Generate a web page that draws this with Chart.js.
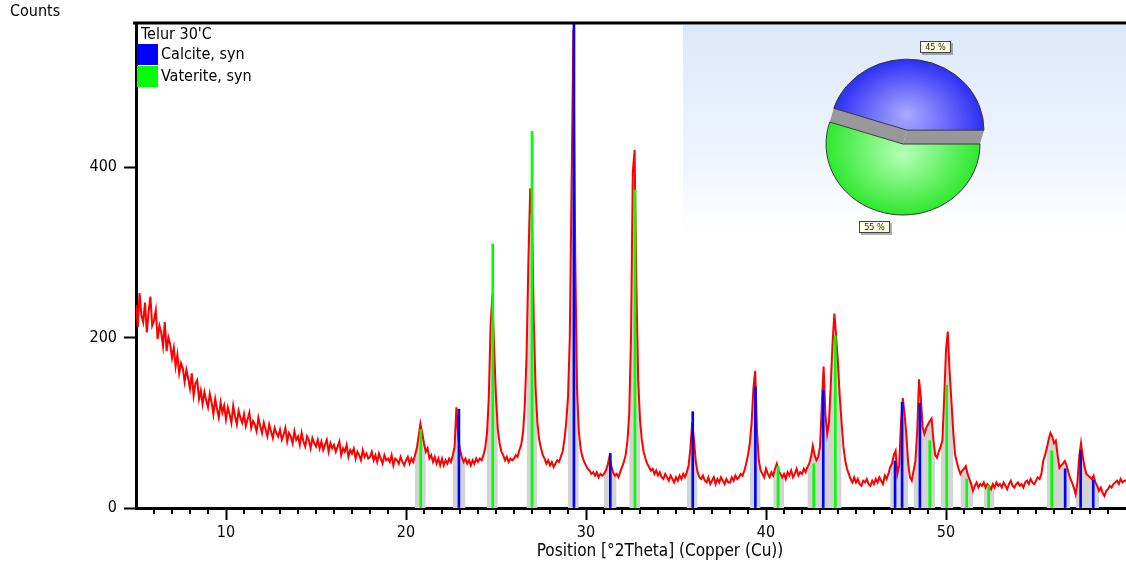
<!DOCTYPE html>
<html>
<head>
<meta charset="utf-8">
<title>Telur 30'C</title>
<script src="https://cdn.jsdelivr.net/npm/chart.js@4.4.1/dist/chart.umd.min.js"></script>
<style>
  html, body { margin: 0; padding: 0; background: #fff; }
  #wrap { position: relative; width: 1126px; height: 577px; overflow: hidden; }
  #pattern { position: absolute; left: 0; top: 0; }
  #quantInset {
    position: absolute; left: 683px; top: 25px; width: 443px; height: 212px;
    background: linear-gradient(to bottom, #dce8fa 0%, #ecf3fd 55%, #ffffff 100%);
  }
  #quant { position: absolute; left: 0; top: 0; }
</style>
</head>
<body>
<div id="wrap">
  <canvas id="pattern" width="1126" height="577"></canvas>
  <div id="quantInset"><canvas id="quant" width="443" height="212"></canvas></div>
</div>
<script>
// Scan: 5 - 60 °2Theta, 0.1° step
const SCAN_START = 5;
const SCAN_STEP = 0.1;
const counts = [
  238, 212, 252, 226, 218, 241, 206, 230, 248, 214,   // 5
  220, 232, 198, 214, 206, 190, 218, 184, 200, 192,   // 6
  176, 188, 166, 180, 158, 170, 164, 148, 162, 152,   // 7
  140, 158, 132, 146, 150, 128, 138, 122, 136, 126,   // 8
  118, 134, 124, 110, 128, 116, 106, 124, 112, 120,   // 9
  104, 118, 110, 100, 120, 108, 98, 114, 106, 100,    // 10
  110, 96, 104, 112, 94, 102, 98, 90, 106, 96,        // 11
  88, 100, 92, 84, 98, 90, 82, 94, 88, 84,            // 12
  92, 80, 86, 94, 78, 88, 84, 76, 90, 80,             // 13
  84, 74, 88, 78, 72, 84, 80, 70, 82, 76,             // 14
  72, 80, 70, 78, 68, 74, 80, 66, 76, 70,             // 15
  74, 66, 72, 78, 62, 70, 66, 74, 60, 68,             // 16
  64, 70, 58, 66, 62, 56, 68, 60, 64, 58,             // 17
  60, 66, 56, 62, 54, 64, 58, 52, 62, 56,             // 18
  58, 54, 62, 50, 58, 56, 52, 60, 54, 50,             // 19
  56, 60, 52, 58, 54, 62, 70, 84, 99, 88,             // 20
  76, 66, 70, 58, 62, 54, 60, 52, 58, 50,             // 21
  58, 50, 56, 52, 58, 54, 62, 72, 118, 84,            // 22
  68, 60, 54, 58, 52, 56, 50, 56, 52, 58,             // 23
  54, 58, 56, 62, 70, 88, 130, 215, 250, 185,         // 24
  130, 92, 76, 66, 62, 56, 60, 54, 58, 56,            // 25
  58, 62, 60, 68, 74, 88, 120, 180, 290, 375,         // 26
  340, 220, 140, 100, 80, 70, 62, 58, 52, 56,         // 27
  50, 54, 48, 52, 56, 54, 60, 66, 80, 100,            // 28
  130, 200, 380, 561, 300, 140, 90, 70, 60, 54,       // 29
  50, 46, 44, 40, 42, 38, 42, 36, 40, 38,             // 30
  40, 44, 50, 60, 50, 42, 38, 40, 36, 42,             // 31
  48, 54, 62, 78, 110, 200, 394, 420, 260, 150,       // 32
  104, 80, 66, 58, 52, 48, 44, 46, 40, 44,            // 33
  38, 42, 36, 34, 40, 36, 32, 38, 34, 30,             // 34
  36, 32, 38, 34, 40, 36, 42, 50, 70, 100,            // 35
  80, 54, 42, 36, 34, 38, 32, 30, 36, 28,             // 36
  32, 36, 28, 34, 30, 36, 32, 28, 34, 30,             // 37
  30, 36, 32, 38, 34, 36, 40, 38, 44, 52,             // 38
  62, 76, 100, 140, 161, 90, 56, 44, 40, 36,          // 39
  46, 40, 36, 42, 38, 46, 52, 44, 40, 36,             // 40
  40, 34, 42, 38, 44, 36, 40, 46, 38, 42,             // 41
  40, 46, 42, 48, 52, 60, 73, 62, 56, 60,             // 42
  72, 120, 166, 110, 87, 100, 146, 195, 228, 200,     // 43
  170, 130, 100, 72, 56, 46, 40, 34, 30, 36,          // 44
  30, 34, 28, 26, 32, 30, 34, 28, 26, 32,             // 45
  28, 34, 30, 36, 32, 28, 38, 34, 40, 48,             // 46
  52, 62, 67, 40, 50, 100, 129, 110, 85, 52,          // 47
  36, 32, 44, 55, 90, 151, 130, 95, 87, 94,           // 48
  98, 102, 105, 80, 62, 59, 66, 72, 79, 130,          // 49
  185, 207, 160, 126, 90, 63, 54, 46, 40, 44,         // 50
  46, 49, 40, 34, 28, 20, 26, 30, 24, 28,             // 51
  26, 30, 24, 28, 26, 22, 28, 24, 30, 26,             // 52
  28, 24, 30, 26, 22, 28, 32, 26, 24, 28,             // 53
  30, 26, 28, 24, 30, 32, 28, 34, 30, 28,             // 54
  32, 36, 34, 40, 55, 62, 70, 80, 88, 84,             // 55
  76, 79, 62, 47, 50, 52, 55, 50, 42, 35,             // 56
  30, 24, 16, 30, 60, 76, 60, 48, 40, 38,             // 57
  36, 34, 38, 30, 26, 20, 24, 18, 14, 20,             // 58
  22, 26, 24, 28, 30, 32, 28, 34, 30, 32,             // 59
  32                                                  // 60
];

// Reference patterns (stick positions and heights)
const calcitePos = [22.94, 29.33, 31.35, 35.93, 39.41, 43.18, 47.17, 47.56, 48.55, 56.62, 57.48, 58.18];
const calciteInt = [116, 575, 64, 113, 142, 138, 55, 124, 123, 46, 67, 33];
const vateritePos = [20.82, 24.82, 27.0, 32.72, 40.67, 42.65, 43.85, 49.1, 50.04, 51.15, 52.37, 55.87];
const vateriteInt = [92, 310, 442, 373, 49, 52, 202, 79, 144, 34, 27, 67];

const xTickValues = [10, 20, 30, 40, 50];
const yTickValues = [0, 200, 400];

// Semi-quantitative result
const phaseNames = ['Calcite, syn', 'Vaterite, syn'];
const phasePercent = [45, 55];
const phaseColors = ['#0000ff', '#00ff00'];

const sampleName = "Telur 30'C";
const xTitle = 'Position [°2Theta] (Copper (Cu))';
const yTitle = 'Counts';

const FONT_FAMILY = "'DejaVu Sans Condensed', 'DejaVu Sans', sans-serif";
Chart.defaults.font.family = FONT_FAMILY;
Chart.defaults.font.size = 16;
Chart.defaults.color = '#000';

const scan = counts.map((c, i) => ({ x: Math.round((SCAN_START + i * SCAN_STEP) * 100) / 100, y: c }));
const allSticks = calcitePos.concat(vateritePos);
const MATCH_HALF_WIDTH = 0.36;
// profile shaded under each reference line
const matched = scan.map(p => ({
  x: p.x,
  y: allSticks.some(s => Math.abs(s - p.x) <= MATCH_HALF_WIDTH) ? p.y : null
}));
const toSticks = (pos, h) => pos.map((x, i) => ({ x: x, y: h[i] }));

const framePlugin = {
  id: 'frame',
  afterDatasetsDraw(chart) {
    const { ctx, chartArea: a } = chart;
    ctx.save();
    ctx.strokeStyle = '#000';
    ctx.lineWidth = 3;
    ctx.beginPath();
    ctx.moveTo(a.left - 3, a.top);
    ctx.lineTo(a.right, a.top);
    ctx.stroke();
    ctx.restore();
  },
  afterDraw(chart) {
    const { ctx, chartArea: a } = chart;
    const xs = chart.scales.x;
    ctx.save();

    // minor ticks every degree
    ctx.strokeStyle = '#000';
    ctx.lineWidth = 2;
    ctx.beginPath();
    for (let v = Math.ceil(xs.min) + 1; v < xs.max; v++) {
      if (v % 10 === 0) continue;
      const px = Math.round(xs.getPixelForValue(v));
      ctx.moveTo(px, a.bottom + 1);
      ctx.lineTo(px, a.bottom + 6);
    }
    ctx.stroke();

    ctx.fillStyle = '#000';
    ctx.textBaseline = 'middle';

    // axis titles
    ctx.font = '17px ' + FONT_FAMILY;
    ctx.textAlign = 'center';
    ctx.fillText(xTitle, 660, 552);
    ctx.font = '16px ' + FONT_FAMILY;
    ctx.textAlign = 'left';
    ctx.fillText(yTitle, 10, 12);

    // legend inside the plot
    ctx.fillText(sampleName, a.left + 5, a.top + 12);
    phaseNames.forEach((name, i) => {
      const top = a.top + 21 + i * 22;
      ctx.fillStyle = phaseColors[i];
      ctx.fillRect(a.left + 1, top, 21, 21);
      ctx.fillStyle = '#000';
      ctx.fillText(name, a.left + 25, top + 11);
    });
    ctx.restore();
  }
};

new Chart(document.getElementById('pattern'), {
  type: 'line',
  data: {
    datasets: [
      {
        type: 'bar', label: phaseNames[0], data: toSticks(calcitePos, calciteInt),
        backgroundColor: phaseColors[0], barThickness: 2, grouped: false, order: 1
      },
      {
        type: 'bar', label: phaseNames[1], data: toSticks(vateritePos, vateriteInt),
        backgroundColor: phaseColors[1], barThickness: 2, grouped: false, order: 1
      },
      {
        label: sampleName, data: scan, borderColor: '#ff0000', borderWidth: 2,
        pointRadius: 0, tension: 0, fill: false, order: 2
      },
      {
        label: 'matched', data: matched, borderWidth: 0, borderColor: 'rgba(0,0,0,0)',
        pointRadius: 0, tension: 0, fill: 'origin', backgroundColor: '#d3d3d3',
        spanGaps: false, order: 3
      }
    ]
  },
  options: {
    responsive: false,
    animation: false,
    events: [],
    layout: { padding: { top: 23, right: 0, bottom: 0, left: 0 } },
    plugins: { legend: { display: false }, tooltip: { enabled: false } },
    scales: {
      x: {
        type: 'linear', min: 5, max: 60, offset: false,
        border: { color: '#000', width: 3 },
        grid: { offset: false, drawOnChartArea: false, tickLength: 12, tickWidth: 2, tickColor: '#000' },
        ticks: { autoSkip: false, maxRotation: 0, padding: 3 },
        afterBuildTicks(scale) { scale.ticks = xTickValues.map(v => ({ value: v })); },
        afterFit(scale) { scale.height = 69; }
      },
      y: {
        min: 0, max: 569,
        border: { color: '#000', width: 3 },
        grid: { offset: false, drawOnChartArea: false, tickLength: 12, tickWidth: 2, tickColor: '#000' },
        ticks: { padding: 7 },
        afterBuildTicks(scale) { scale.ticks = yTickValues.map(v => ({ value: v })); },
        afterFit(scale) { scale.width = 136; }
      }
    }
  },
  plugins: [framePlugin]
});

// Phase pie: slightly tilted, calcite slice lifted off the rest
const PIE_RADIUS = 77;
const PIE_TILT = 0.922;
const LIFT = { x: 4, y: -15 };

function sliceFill(context) {
  const { chart, dataIndex } = context;
  const a = chart.chartArea;
  if (!a || dataIndex === undefined) return phaseColors[0];
  let cx = (a.left + a.right) / 2;
  let cy = (a.top + a.bottom) / 2;
  if (dataIndex === 0) { cx += LIFT.x; cy += LIFT.y; }
  const focusY = dataIndex === 0 ? cy - 18 : cy + 12;
  const g = chart.ctx.createRadialGradient(cx, focusY, 0, cx, cy, PIE_RADIUS);
  if (dataIndex === 0) {
    g.addColorStop(0, '#a9a9ff');
    g.addColorStop(1, '#2e2ef5');
  } else {
    g.addColorStop(0, '#b6ffb6');
    g.addColorStop(1, '#2fe82f');
  }
  return g;
}

const tiltPlugin = {
  id: 'tilt',
  afterDatasetsUpdate(chart) {
    const arc = chart.getDatasetMeta(0).data[0];
    arc.x += LIFT.x;
    arc.y += LIFT.y;
  },
  beforeDatasetsDraw(chart) {
    const ctx = chart.ctx;
    const [lifted, rest] = chart.getDatasetMeta(0).data;
    ctx.save();
    ctx.translate(rest.x, rest.y);
    ctx.scale(1, PIE_TILT);
    ctx.translate(-rest.x, -rest.y);
    // cut faces between the lifted slice and the remaining slice
    const r = lifted.outerRadius;
    const dx = rest.x - lifted.x;
    const dy = rest.y - lifted.y;
    ctx.fillStyle = '#97979c';
    [lifted.startAngle, lifted.endAngle].forEach(ang => {
      const ex = lifted.x + Math.cos(ang) * r;
      const ey = lifted.y + Math.sin(ang) * r;
      ctx.beginPath();
      ctx.moveTo(lifted.x, lifted.y);
      ctx.lineTo(ex, ey);
      ctx.lineTo(ex + dx, ey + dy);
      ctx.lineTo(rest.x, rest.y);
      ctx.closePath();
      ctx.fill();
    });
  },
  afterDatasetsDraw(chart) {
    const ctx = chart.ctx;
    ctx.restore();
    const arcs = chart.getDatasetMeta(0).data;
    const base = arcs[1];
    const values = chart.data.datasets[0].data;
    ctx.save();
    ctx.font = '9px ' + FONT_FAMILY;
    ctx.textAlign = 'center';
    ctx.textBaseline = 'middle';
    arcs.forEach((arc, i) => {
      const mid = (arc.startAngle + arc.endAngle) / 2;
      const d = arc.outerRadius + 8;
      const px = arc.x + Math.cos(mid) * d;
      const py = base.y + (arc.y + Math.sin(mid) * d - base.y) * PIE_TILT;
      const text = values[i] + ' %';
      const w = Math.round(ctx.measureText(text).width + 10);
      const h = 12;
      const x0 = Math.round(Math.cos(mid) >= 0 ? px : px - w);
      const y0 = Math.round(Math.sin(mid) < 0 ? py - h : py);
      ctx.fillStyle = 'rgba(0,0,0,0.3)';
      ctx.fillRect(x0 + 2, y0 + 2, w, h);
      ctx.fillStyle = '#ffffe1';
      ctx.fillRect(x0, y0, w, h);
      ctx.strokeStyle = '#444';
      ctx.lineWidth = 1;
      ctx.strokeRect(x0 + 0.5, y0 + 0.5, w - 1, h - 1);
      ctx.fillStyle = '#222';
      ctx.fillText(text, x0 + w / 2, y0 + h / 2 + 0.5);
    });
    ctx.restore();
  }
};

new Chart(document.getElementById('quant'), {
  type: 'pie',
  data: {
    labels: phaseNames,
    datasets: [{
      data: phasePercent,
      backgroundColor: sliceFill,
      borderColor: '#333',
      borderWidth: 1
    }]
  },
  options: {
    responsive: false,
    animation: false,
    events: [],
    radius: PIE_RADIUS,
    rotation: 288,
    layout: { padding: { top: 26, right: 3, bottom: 0, left: 0 } },
    plugins: { legend: { display: false }, tooltip: { enabled: false } }
  },
  plugins: [tiltPlugin]
});
</script>
</body>
</html>
